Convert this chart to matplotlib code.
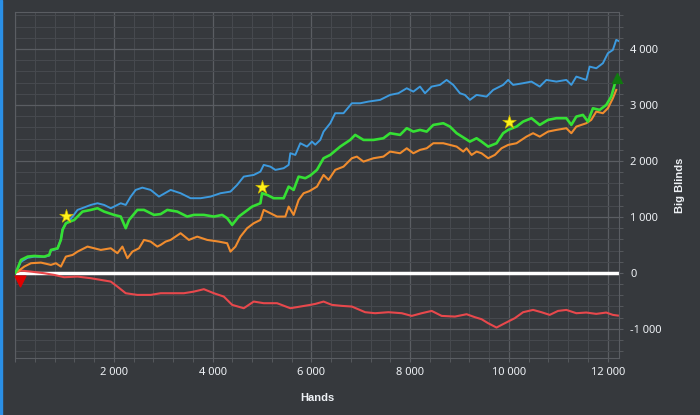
import matplotlib
matplotlib.use('Agg')
import matplotlib.pyplot as plt
from matplotlib.ticker import MultipleLocator, FuncFormatter
from matplotlib.patches import Rectangle

# values (hands, big blinds)
green_x = [0, 40, 121, 256, 390, 592, 693, 727, 862, 929, 963, 1030, 1199, 1367, 1535, 1670, 1804,
           2006, 2141, 2242, 2309, 2478, 2612, 2814, 2949, 3084, 3286, 3488, 3622, 3824, 4026, 4195,
           4296, 4397, 4531, 4666, 4801, 4969, 5003, 5104, 5238, 5440, 5541, 5642, 5743, 5878, 5979,
           6114, 6248, 6383, 6585, 6787, 6888, 7056, 7258, 7460, 7595, 7797, 7932, 8066, 8201, 8336,
           8470, 8672, 8807, 8942, 9077, 9211, 9346, 9447, 9581, 9750, 9884, 9985, 10154, 10288,
           10457, 10625, 10793, 10962, 11164, 11265, 11366, 11500, 11601, 11702, 11837, 11972,
           12073, 12140, 12174]
green_y = [0, 54, 232, 291, 303, 291, 321, 410, 440, 589, 768, 887, 946, 1095, 1125, 1155, 1095,
           1036, 1006, 798, 946, 1125, 1125, 1036, 1050, 1125, 1095, 1006, 1036, 1036, 1006, 1036,
           977, 857, 1006, 1095, 1184, 1244, 1423, 1393, 1334, 1334, 1541, 1482, 1720, 1691, 1740,
           1840, 2048, 2107, 2256, 2375, 2465, 2375, 2375, 2405, 2495, 2465, 2584, 2524, 2554, 2524,
           2643, 2673, 2613, 2495, 2420, 2345, 2405, 2345, 2256, 2315, 2495, 2554, 2613, 2702,
           2763, 2643, 2733, 2763, 2763, 2643, 2792, 2822, 2702, 2941, 2911, 3000,
           3149, 3358, 3447]

blue_x = [0, 40, 121, 256, 390, 592, 693, 727, 862, 929, 963, 1030, 1100, 1266, 1535, 1670, 1804,
          1939, 2141, 2242, 2343, 2444, 2579, 2747, 2915, 2949, 3151, 3353, 3555, 3757, 3959, 4161,
          4363, 4498, 4632, 4834, 4969, 5036, 5171, 5272, 5440, 5541, 5575, 5676, 5777, 5912, 6013,
          6080, 6181, 6248, 6383, 6484, 6652, 6821, 6989, 7157, 7393, 7595, 7763, 7932, 8066, 8201,
          8302, 8437, 8605, 8740, 8874, 9009, 9110, 9211, 9346, 9548, 9682, 9884, 9985, 10086,
          10288, 10457, 10625, 10760, 10962, 11164, 11265, 11366, 11567, 11635, 11770, 11904,
          12005, 12106, 12174, 12221]
blue_y = [0, 40, 200, 270, 290, 285, 310, 400, 430, 600, 780, 880, 930, 1125, 1214, 1244, 1214,
          1155, 1244, 1214, 1363, 1482, 1523, 1482, 1363, 1380, 1482, 1423, 1334, 1334, 1363, 1423,
          1452, 1572, 1720, 1750, 1809, 1929, 1898, 1840, 1870, 1929, 2138, 2107, 2316, 2256, 2345,
          2290, 2375, 2524, 2673, 2852, 2852, 3030, 3030, 3060, 3090, 3179, 3209, 3298, 3238, 3328,
          3209, 3328, 3358, 3447, 3358, 3209, 3179, 3090, 3179, 3149, 3268, 3358, 3447, 3358,
          3388, 3417, 3328, 3447, 3417, 3447, 3358, 3506, 3447, 3685, 3655, 3745,
          3923, 3983, 4162, 4143]

orange_x = [0, 54, 188, 323, 525, 727, 828, 929, 1030, 1166, 1266, 1468, 1603, 1737, 1939, 2074,
            2175, 2276, 2377, 2511, 2612, 2747, 2882, 2949, 3050, 3151, 3353, 3521, 3690, 3892, 4127,
            4296, 4363, 4464, 4565, 4700, 4834, 4969, 5036, 5171, 5306, 5474, 5541, 5642, 5743, 5844,
            5960, 6114, 6248, 6349, 6484, 6652, 6821, 6922, 7056, 7258, 7460, 7595, 7797, 7932, 8066,
            8201, 8336, 8470, 8672, 8807, 8942, 9077, 9144, 9245, 9346, 9447, 9581, 9716, 9851,
            9985, 10154, 10356, 10490, 10625, 10793, 10962, 11164, 11265, 11366, 11567, 11668,
            11770, 11904, 12005, 12106, 12174]
orange_y = [0, 24, 113, 173, 184, 143, 173, 113, 291, 321, 380, 470, 440, 410, 440, 352,
            470, 262, 380, 440, 589, 559, 470, 500, 559, 589, 709, 589, 648, 589, 559,
            530, 380, 470, 648, 798, 887, 946, 1125, 1066, 1006, 1006, 1184, 1036, 1304, 1423,
            1460, 1541, 1750, 1661, 1840, 1898, 2048, 2077, 1988, 2048, 2077, 2167, 2137, 2226, 2137,
            2197, 2226, 2316, 2316, 2286, 2256, 2167, 2226, 2107, 2167, 2137, 2048, 2107, 2226,
            2286, 2316, 2434, 2495, 2434, 2524, 2554, 2584, 2495, 2613, 2673, 2733,
            2881, 2852, 2941, 3120, 3268]

red_x = [0, 121, 323, 592, 794, 996, 1266, 1535, 1737, 1939, 2074, 2242, 2478, 2747, 2949, 3218,
         3420, 3622, 3824, 4026, 4228, 4397, 4632, 4834, 5036, 5306, 5575, 5777, 5979, 6080, 6248,
         6416, 6618, 6821, 7090, 7292, 7561, 7831, 8033, 8235, 8437, 8639, 8908, 9144, 9312, 9447,
         9581, 9750, 9918, 10120, 10288, 10490, 10659, 10827, 10995, 11164, 11366, 11567, 11769,
         11971, 12106, 12207]
red_y = [0, 41, 23, -6, -36, -77, -66, -95, -125, -155, -245, -363, -393, -393, -363, -363,
         -363, -334, -291, -363, -423, -571, -631, -512, -541, -541, -631, -601, -571, -554, -512,
         -571, -589, -601, -702, -720, -702, -720, -768, -720, -679, -768, -780, -738, -791, -827,
         -899, -976, -899, -809, -702, -661, -702, -750, -679, -661, -720, -708, -732,
         -708, -750, -762]

star_x = [1030, 5010, 10000]
star_y = [1018, 1536, 2697]

bg = '#36393d'
txt = '#eef1f5'
plt.rcParams['font.family'] = ['Noto Sans', 'DejaVu Sans']

fig = plt.figure(figsize=(7, 4.15), dpi=100, facecolor=bg)
ax = fig.add_axes([15/700, 1 - 358/415, 604/700, 346/415], facecolor=bg)

ax.xaxis.set_major_locator(MultipleLocator(2000))
ax.xaxis.set_minor_locator(MultipleLocator(400))
ax.yaxis.set_major_locator(MultipleLocator(1000))
ax.yaxis.set_minor_locator(MultipleLocator(200))
ax.grid(True, which='major', color='#5a5d62', lw=0.9)
ax.grid(True, which='minor', color='#46494e', lw=0.8)
ax.set_axisbelow(True)

ax.axhline(0, color='white', lw=2.5, zorder=2)
ax.plot(red_x, red_y, color='#e8484c', lw=1.5, zorder=3)
ax.plot(blue_x, blue_y, color='#3d9ade', lw=1.4, zorder=3)
ax.plot(orange_x, orange_y, color='#f08c2e', lw=1.5, zorder=4)
ax.plot(green_x, green_y, color='#35e034', lw=1.9, zorder=5)

ax.scatter(star_x, star_y, marker='*', s=105, color='#fff21a', edgecolors='#c8b400', linewidths=0.5, zorder=6)
ax.scatter([110], [-150], marker='v', s=60, color='#e00000', zorder=6, clip_on=False)
ax.scatter([12185], [3480], marker='^', s=50, color='#107a10', zorder=6, clip_on=False)

ax.set_xlim(0, 12230)
ax.set_ylim(-1520, 4660)


def thousands(v, pos):
    return '{:,.0f}'.format(v).replace(',', ' ')


ax.xaxis.set_major_formatter(FuncFormatter(lambda v, p: '' if v == 0 else thousands(v, p)))
ax.yaxis.set_major_formatter(FuncFormatter(thousands))
ax.yaxis.tick_right()
ax.yaxis.set_label_position('right')
ax.tick_params(which='both', colors='#5a5d62', labelcolor=txt, labelsize=8, length=3)
ax.tick_params(axis='y', which='major', pad=5)

for s in ax.spines.values():
    s.set_color('#5a5d62')

ax.set_xlabel('Hands', color=txt, fontsize=8, fontweight='bold', family='Liberation Sans')
ax.set_ylabel('Big Blinds', color=txt, fontsize=8, fontweight='bold', family='Liberation Sans')
ax.xaxis.set_label_coords((317 - 15) / 604, -(393 - 358) / 346)
ax.yaxis.set_label_coords((675 - 15) / 604, 0.5)

# thin blue frame on the left edge
fig.add_artist(Rectangle((0, 0), 2/700, 1, transform=fig.transFigure, color='#2a8fe6'))

fig.savefig('out.png', dpi=100, facecolor=bg)
